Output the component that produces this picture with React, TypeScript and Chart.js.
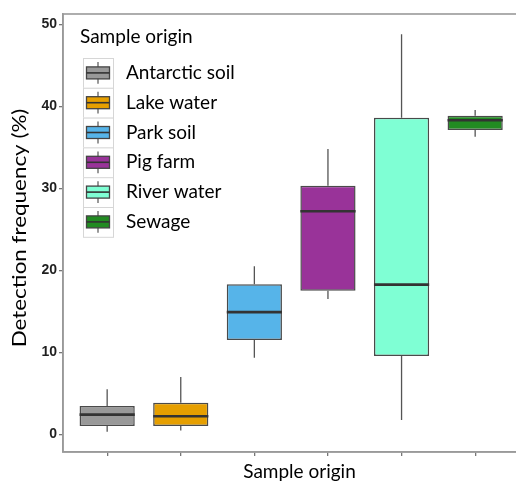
import React, { useEffect, useRef } from 'react';
import { Chart, registerables } from 'chart.js';

Chart.register(...registerables);

const categories = ['Antarctic soil', 'Lake water', 'Park soil', 'Pig farm', 'River water', 'Sewage'];
const whiskerLow = [0.3, 0.45, 9.35, 16.5, 1.75, 36.3];
const quartile1 = [1.0, 1.0, 11.5, 17.5, 9.55, 37.1];
const medians = [2.4, 2.2, 14.9, 27.2, 18.25, 38.3];
const quartile3 = [3.45, 3.85, 18.3, 30.3, 38.6, 38.85];
const whiskerHigh = [5.5, 7.0, 20.5, 34.8, 48.8, 39.55];
const fillColors = ['#999999', '#E69F00', '#56B4E9', '#993399', '#7FFFD4', '#228B22'];
const yTicks = [0, 10, 20, 30, 40, 50];
const legendTitle = 'Sample origin';
const xTitle = 'Sample origin';
const yTitle = 'Detection frequency (%)';

const TEXT_FONT = 'Lato, "Open Sans", sans-serif';

const boxPlugin = {
  id: 'boxExtras',
  beforeDatasetsDraw(chart: any) {
    const { ctx } = chart;
    const xs = chart.scales.x;
    const ys = chart.scales.y;
    ctx.save();
    ctx.strokeStyle = '#555555';
    ctx.lineWidth = 1.3;
    categories.forEach((_, i) => {
      const x = xs.getPixelForValue(i + 1);
      ctx.beginPath();
      ctx.moveTo(x, ys.getPixelForValue(whiskerHigh[i]));
      ctx.lineTo(x, ys.getPixelForValue(quartile3[i]));
      ctx.moveTo(x, ys.getPixelForValue(quartile1[i]));
      ctx.lineTo(x, ys.getPixelForValue(whiskerLow[i]));
      ctx.stroke();
    });
    ctx.restore();
  },
  afterDatasetsDraw(chart: any) {
    const { ctx, chartArea } = chart;
    const xs = chart.scales.x;
    const ys = chart.scales.y;
    const meta = chart.getDatasetMeta(0);
    ctx.save();
    categories.forEach((_, i) => {
      const el = meta.data[i];
      const x = xs.getPixelForValue(i + 1);
      const half = el.width / 2;
      ctx.strokeStyle = '#333333';
      ctx.lineWidth = 2.6;
      ctx.beginPath();
      const my = ys.getPixelForValue(medians[i]);
      ctx.moveTo(x - half, my);
      ctx.lineTo(x + half, my);
      ctx.stroke();
    });
    // panel border
    ctx.strokeStyle = '#9a9a9a';
    ctx.lineWidth = 1.6;
    ctx.strokeRect(chartArea.left, chartArea.top, chartArea.right - chartArea.left + 4, chartArea.bottom - chartArea.top);

    // axis titles
    ctx.fillStyle = '#000000';
    ctx.font = `19px ${TEXT_FONT}`;
    ctx.textBaseline = 'middle';
    ctx.textAlign = 'center';
    ctx.fillText(xTitle, (chartArea.left + chartArea.right) / 2 + 10, chartArea.bottom + 20);
    ctx.save();
    ctx.translate(20, (chartArea.top + chartArea.bottom) / 2 - 5);
    ctx.rotate(-Math.PI / 2);
    ctx.scale(1.18, 1);
    ctx.fillText(yTitle, 0, 0);
    ctx.restore();

    // legend
    const lx = chartArea.left;
    const ty = chartArea.top;
    ctx.textAlign = 'left';
    ctx.fillStyle = '#000000';
    ctx.font = `19px ${TEXT_FONT}`;
    ctx.fillText(legendTitle, lx + 17, ty + 23);
    const keyLeft = lx + 20;
    const keyW = 30;
    const rowH = 29.8;
    const firstTop = ty + 44;
    categories.forEach((name, i) => {
      const top = firstTop + i * rowH;
      const cy = top + rowH / 2;
      ctx.fillStyle = '#ffffff';
      ctx.fillRect(keyLeft, top, keyW, rowH);
      ctx.strokeStyle = '#d6d6d6';
      ctx.lineWidth = 1;
      ctx.strokeRect(keyLeft + 0.5, top + 0.5, keyW, rowH);
      const cx = keyLeft + keyW / 2;
      ctx.strokeStyle = '#555555';
      ctx.lineWidth = 1.2;
      ctx.beginPath();
      ctx.moveTo(cx, top + 4);
      ctx.lineTo(cx, top + rowH - 4);
      ctx.stroke();
      ctx.fillStyle = fillColors[i];
      ctx.fillRect(cx - 11.5, cy - 6, 23, 12);
      ctx.strokeStyle = '#444444';
      ctx.lineWidth = 1.3;
      ctx.strokeRect(cx - 11.5, cy - 6, 23, 12);
      ctx.strokeStyle = '#333333';
      ctx.lineWidth = 1.6;
      ctx.beginPath();
      ctx.moveTo(cx - 11.5, cy);
      ctx.lineTo(cx + 11.5, cy);
      ctx.stroke();
      ctx.fillStyle = '#000000';
      ctx.font = `19px ${TEXT_FONT}`;
      ctx.fillText(name, lx + 63, cy);
    });
    ctx.restore();
  },
};

export default function App() {
  const ref = useRef<HTMLCanvasElement>(null);
  useEffect(() => {
    if (!ref.current) return;
    const chart = new Chart(ref.current, {
      type: 'bar',
      data: {
        datasets: [
          {
            data: categories.map((_, i) => ({ x: i + 1, y: [quartile1[i], quartile3[i]] })) as any,
            backgroundColor: fillColors,
            borderColor: '#4a4a4a',
            borderWidth: 1.5,
            borderSkipped: false,
            barPercentage: 0.75,
            categoryPercentage: 1,
          },
        ],
      },
      options: {
        animation: false,
        responsive: false,
        layout: { padding: { left: 0, top: 14, right: 0, bottom: 0 } },
        plugins: { legend: { display: false }, tooltip: { enabled: false } },
        scales: {
          x: {
            type: 'linear',
            offset: false,
            min: 0.4,
            max: 6.555,
            afterBuildTicks: (s: any) => {
              s.ticks = categories.map((_, i) => ({ value: i + 1 }));
            },
            afterFit: (s: any) => {
              s.height = 31;
            },
            ticks: { callback: () => '', padding: 0 },
            grid: { offset: false, drawOnChartArea: false, drawTicks: true, tickLength: 4, color: '#777777', lineWidth: 1.3 },
            border: { display: true, color: '#9a9a9a', width: 1.6 },
            title: { display: false },
          },
          y: {
            type: 'linear',
            min: -2.16,
            max: 51.26,
            afterBuildTicks: (s: any) => {
              s.ticks = yTicks.map((v) => ({ value: v }));
            },
            afterFit: (s: any) => {
              s.width = 63;
            },
            ticks: {
              color: '#1f1f1f',
              padding: 2,
              font: { family: '"Liberation Sans Narrow", "Liberation Sans", sans-serif', size: 14, weight: 'bold' },
            },
            grid: { drawOnChartArea: false, drawTicks: true, tickLength: 4, color: '#777777', lineWidth: 1.3 },
            border: { display: true, color: '#9a9a9a', width: 1.6 },
            title: { display: false },
          },
        },
      },
      plugins: [boxPlugin],
    });
    return () => chart.destroy();
  }, []);
  return (
    <div style={{ position: 'absolute', left: 0, top: 0, width: 516, height: 483, background: '#ffffff' }}>
      <canvas ref={ref} width={516} height={483} />
    </div>
  );
}
